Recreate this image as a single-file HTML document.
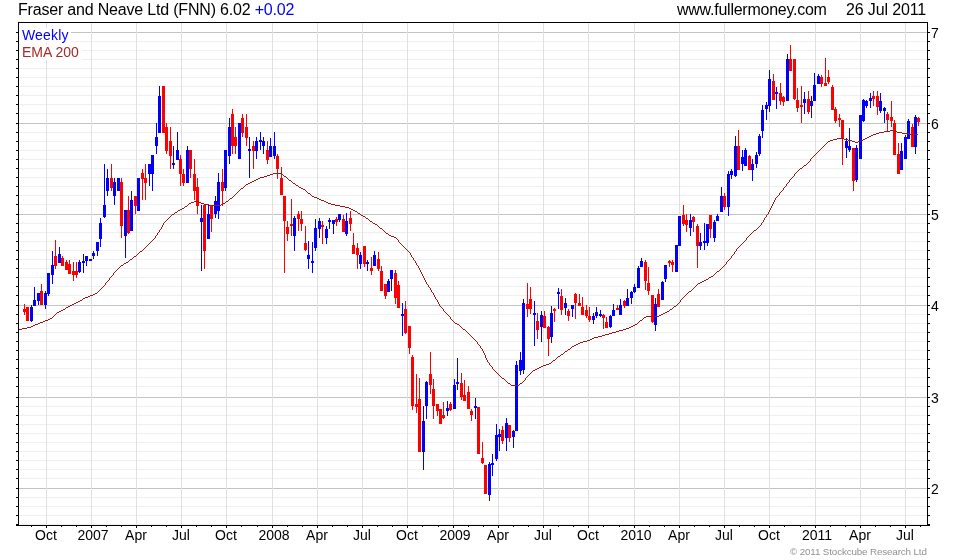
<!DOCTYPE html>
<html><head><meta charset="utf-8"><title>chart</title>
<style>
html,body{margin:0;padding:0;background:#fff;}
body{width:980px;height:560px;position:relative;overflow:hidden;font-family:"Liberation Sans",sans-serif;color:#000;}
.t,.xl,.yl,.lg,.cp{will-change:transform;}
.t{position:absolute;white-space:nowrap;font-size:16px;line-height:16px;top:2px;}
.xl{position:absolute;top:528px;width:60px;text-align:center;font-size:14px;line-height:14px;}
.yl{position:absolute;left:930.6px;font-size:14px;line-height:16px;}
.lg{position:absolute;left:22px;font-size:14px;line-height:14px;white-space:nowrap;}
.cp{position:absolute;right:53px;top:547px;font-size:9.8px;line-height:10px;color:#909090;white-space:nowrap;letter-spacing:-0.13px}
</style></head><body>
<svg width="980" height="560" viewBox="0 0 980 560" style="position:absolute;left:0;top:0" shape-rendering="crispEdges">
<rect x="20" y="41" width="907" height="1" fill="#efefef"/>
<rect x="20" y="50" width="907" height="1" fill="#efefef"/>
<rect x="20" y="59" width="907" height="1" fill="#efefef"/>
<rect x="20" y="68" width="907" height="1" fill="#efefef"/>
<rect x="20" y="77" width="907" height="1" fill="#efefef"/>
<rect x="20" y="86" width="907" height="1" fill="#efefef"/>
<rect x="20" y="95" width="907" height="1" fill="#efefef"/>
<rect x="20" y="104" width="907" height="1" fill="#efefef"/>
<rect x="20" y="113" width="907" height="1" fill="#efefef"/>
<rect x="20" y="132" width="907" height="1" fill="#efefef"/>
<rect x="20" y="141" width="907" height="1" fill="#efefef"/>
<rect x="20" y="150" width="907" height="1" fill="#efefef"/>
<rect x="20" y="159" width="907" height="1" fill="#efefef"/>
<rect x="20" y="168" width="907" height="1" fill="#efefef"/>
<rect x="20" y="177" width="907" height="1" fill="#efefef"/>
<rect x="20" y="186" width="907" height="1" fill="#efefef"/>
<rect x="20" y="195" width="907" height="1" fill="#efefef"/>
<rect x="20" y="204" width="907" height="1" fill="#efefef"/>
<rect x="20" y="223" width="907" height="1" fill="#efefef"/>
<rect x="20" y="232" width="907" height="1" fill="#efefef"/>
<rect x="20" y="241" width="907" height="1" fill="#efefef"/>
<rect x="20" y="250" width="907" height="1" fill="#efefef"/>
<rect x="20" y="259" width="907" height="1" fill="#efefef"/>
<rect x="20" y="268" width="907" height="1" fill="#efefef"/>
<rect x="20" y="277" width="907" height="1" fill="#efefef"/>
<rect x="20" y="286" width="907" height="1" fill="#efefef"/>
<rect x="20" y="295" width="907" height="1" fill="#efefef"/>
<rect x="20" y="314" width="907" height="1" fill="#efefef"/>
<rect x="20" y="323" width="907" height="1" fill="#efefef"/>
<rect x="20" y="332" width="907" height="1" fill="#efefef"/>
<rect x="20" y="341" width="907" height="1" fill="#efefef"/>
<rect x="20" y="350" width="907" height="1" fill="#efefef"/>
<rect x="20" y="359" width="907" height="1" fill="#efefef"/>
<rect x="20" y="368" width="907" height="1" fill="#efefef"/>
<rect x="20" y="377" width="907" height="1" fill="#efefef"/>
<rect x="20" y="386" width="907" height="1" fill="#efefef"/>
<rect x="20" y="406" width="907" height="1" fill="#efefef"/>
<rect x="20" y="415" width="907" height="1" fill="#efefef"/>
<rect x="20" y="424" width="907" height="1" fill="#efefef"/>
<rect x="20" y="433" width="907" height="1" fill="#efefef"/>
<rect x="20" y="442" width="907" height="1" fill="#efefef"/>
<rect x="20" y="451" width="907" height="1" fill="#efefef"/>
<rect x="20" y="460" width="907" height="1" fill="#efefef"/>
<rect x="20" y="469" width="907" height="1" fill="#efefef"/>
<rect x="20" y="478" width="907" height="1" fill="#efefef"/>
<rect x="20" y="497" width="907" height="1" fill="#efefef"/>
<rect x="20" y="506" width="907" height="1" fill="#efefef"/>
<rect x="20" y="515" width="907" height="1" fill="#efefef"/>
<rect x="20" y="524" width="907" height="1" fill="#efefef"/>
<rect x="19" y="32" width="908" height="1" fill="#c4c4c4"/>
<rect x="19" y="123" width="908" height="1" fill="#c4c4c4"/>
<rect x="19" y="214" width="908" height="1" fill="#c4c4c4"/>
<rect x="19" y="305" width="908" height="1" fill="#c4c4c4"/>
<rect x="19" y="397" width="908" height="1" fill="#c4c4c4"/>
<rect x="19" y="488" width="908" height="1" fill="#c4c4c4"/>
<rect x="46" y="23" width="1" height="501" fill="#e0e0e0"/>
<rect x="91" y="23" width="1" height="501" fill="#e0e0e0"/>
<rect x="136" y="23" width="1" height="501" fill="#e0e0e0"/>
<rect x="181" y="23" width="1" height="501" fill="#e0e0e0"/>
<rect x="226" y="23" width="1" height="501" fill="#e0e0e0"/>
<rect x="272" y="23" width="1" height="501" fill="#e0e0e0"/>
<rect x="317" y="23" width="1" height="501" fill="#e0e0e0"/>
<rect x="362" y="23" width="1" height="501" fill="#e0e0e0"/>
<rect x="407" y="23" width="1" height="501" fill="#e0e0e0"/>
<rect x="453" y="23" width="1" height="501" fill="#e0e0e0"/>
<rect x="498" y="23" width="1" height="501" fill="#e0e0e0"/>
<rect x="543" y="23" width="1" height="501" fill="#e0e0e0"/>
<rect x="588" y="23" width="1" height="501" fill="#e0e0e0"/>
<rect x="634" y="23" width="1" height="501" fill="#e0e0e0"/>
<rect x="679" y="23" width="1" height="501" fill="#e0e0e0"/>
<rect x="724" y="23" width="1" height="501" fill="#e0e0e0"/>
<rect x="769" y="23" width="1" height="501" fill="#e0e0e0"/>
<rect x="815" y="23" width="1" height="501" fill="#e0e0e0"/>
<rect x="860" y="23" width="1" height="501" fill="#e0e0e0"/>
<rect x="905" y="23" width="1" height="501" fill="#e0e0e0"/>
<rect x="19" y="28" width="52" height="15" fill="#fff"/>
<rect x="19" y="45" width="63" height="15" fill="#fff"/>
<rect x="24" y="304" width="1" height="11" fill="#ff0000"/>
<rect x="23" y="309" width="3" height="3" fill="#ff0000"/>
<rect x="27" y="307" width="1" height="14" fill="#ff0000"/>
<rect x="26" y="307" width="3" height="14" fill="#ff0000"/>
<rect x="31" y="305" width="1" height="17" fill="#0000ff"/>
<rect x="30" y="307" width="3" height="14" fill="#0000ff"/>
<rect x="34" y="287" width="1" height="19" fill="#0000ff"/>
<rect x="33" y="300" width="3" height="6" fill="#0000ff"/>
<rect x="38" y="293" width="1" height="12" fill="#0000ff"/>
<rect x="37" y="293" width="3" height="8" fill="#0000ff"/>
<rect x="41" y="284" width="1" height="21" fill="#ff0000"/>
<rect x="40" y="291" width="3" height="14" fill="#ff0000"/>
<rect x="45" y="291" width="1" height="18" fill="#0000ff"/>
<rect x="44" y="293" width="3" height="12" fill="#0000ff"/>
<rect x="48" y="273" width="1" height="23" fill="#0000ff"/>
<rect x="47" y="273" width="3" height="21" fill="#0000ff"/>
<rect x="52" y="251" width="1" height="33" fill="#0000ff"/>
<rect x="51" y="265" width="3" height="10" fill="#0000ff"/>
<rect x="55" y="240" width="1" height="29" fill="#ff0000"/>
<rect x="54" y="256" width="3" height="10" fill="#ff0000"/>
<rect x="59" y="247" width="1" height="16" fill="#0000ff"/>
<rect x="58" y="254" width="3" height="9" fill="#0000ff"/>
<rect x="62" y="256" width="1" height="10" fill="#ff0000"/>
<rect x="61" y="258" width="3" height="8" fill="#ff0000"/>
<rect x="66" y="260" width="1" height="10" fill="#ff0000"/>
<rect x="65" y="262" width="3" height="8" fill="#ff0000"/>
<rect x="69" y="260" width="1" height="14" fill="#ff0000"/>
<rect x="68" y="264" width="3" height="10" fill="#ff0000"/>
<rect x="73" y="262" width="1" height="19" fill="#ff0000"/>
<rect x="72" y="271" width="3" height="4" fill="#ff0000"/>
<rect x="76" y="262" width="1" height="16" fill="#ff0000"/>
<rect x="75" y="271" width="3" height="4" fill="#ff0000"/>
<rect x="79" y="260" width="1" height="13" fill="#0000ff"/>
<rect x="78" y="262" width="3" height="10" fill="#0000ff"/>
<rect x="83" y="254" width="1" height="19" fill="#0000ff"/>
<rect x="82" y="261" width="3" height="2" fill="#0000ff"/>
<rect x="86" y="256" width="1" height="10" fill="#0000ff"/>
<rect x="85" y="256" width="3" height="5" fill="#0000ff"/>
<rect x="90" y="259" width="1" height="2" fill="#0000ff"/>
<rect x="89" y="259" width="3" height="2" fill="#0000ff"/>
<rect x="93" y="251" width="1" height="8" fill="#0000ff"/>
<rect x="92" y="253" width="3" height="3" fill="#0000ff"/>
<rect x="97" y="242" width="1" height="14" fill="#0000ff"/>
<rect x="96" y="242" width="3" height="9" fill="#0000ff"/>
<rect x="100" y="218" width="1" height="29" fill="#0000ff"/>
<rect x="99" y="223" width="3" height="16" fill="#0000ff"/>
<rect x="104" y="164" width="1" height="54" fill="#0000ff"/>
<rect x="103" y="205" width="3" height="12" fill="#0000ff"/>
<rect x="107" y="169" width="1" height="27" fill="#0000ff"/>
<rect x="106" y="178" width="3" height="13" fill="#0000ff"/>
<rect x="111" y="164" width="1" height="27" fill="#ff0000"/>
<rect x="110" y="178" width="3" height="10" fill="#ff0000"/>
<rect x="114" y="178" width="1" height="27" fill="#0000ff"/>
<rect x="113" y="182" width="3" height="14" fill="#0000ff"/>
<rect x="118" y="178" width="1" height="13" fill="#0000ff"/>
<rect x="117" y="178" width="3" height="13" fill="#0000ff"/>
<rect x="121" y="178" width="1" height="60" fill="#ff0000"/>
<rect x="120" y="182" width="3" height="44" fill="#ff0000"/>
<rect x="125" y="210" width="1" height="48" fill="#0000ff"/>
<rect x="124" y="210" width="3" height="26" fill="#0000ff"/>
<rect x="128" y="196" width="1" height="38" fill="#ff0000"/>
<rect x="127" y="210" width="3" height="23" fill="#ff0000"/>
<rect x="131" y="191" width="1" height="40" fill="#0000ff"/>
<rect x="130" y="200" width="3" height="31" fill="#0000ff"/>
<rect x="135" y="196" width="1" height="18" fill="#ff0000"/>
<rect x="134" y="196" width="3" height="10" fill="#ff0000"/>
<rect x="138" y="178" width="1" height="33" fill="#0000ff"/>
<rect x="137" y="178" width="3" height="33" fill="#0000ff"/>
<rect x="142" y="169" width="1" height="31" fill="#ff0000"/>
<rect x="141" y="173" width="3" height="6" fill="#ff0000"/>
<rect x="145" y="164" width="1" height="36" fill="#ff0000"/>
<rect x="144" y="178" width="3" height="5" fill="#ff0000"/>
<rect x="149" y="164" width="1" height="22" fill="#0000ff"/>
<rect x="148" y="164" width="3" height="10" fill="#0000ff"/>
<rect x="152" y="155" width="1" height="36" fill="#0000ff"/>
<rect x="151" y="155" width="3" height="19" fill="#0000ff"/>
<rect x="156" y="123" width="1" height="31" fill="#0000ff"/>
<rect x="155" y="137" width="3" height="9" fill="#0000ff"/>
<rect x="159" y="86" width="1" height="47" fill="#0000ff"/>
<rect x="158" y="96" width="3" height="37" fill="#0000ff"/>
<rect x="163" y="86" width="1" height="47" fill="#ff0000"/>
<rect x="162" y="86" width="3" height="47" fill="#ff0000"/>
<rect x="166" y="123" width="1" height="31" fill="#ff0000"/>
<rect x="165" y="127" width="3" height="24" fill="#ff0000"/>
<rect x="170" y="127" width="1" height="42" fill="#ff0000"/>
<rect x="169" y="141" width="3" height="15" fill="#ff0000"/>
<rect x="173" y="146" width="1" height="23" fill="#0000ff"/>
<rect x="172" y="163" width="3" height="2" fill="#0000ff"/>
<rect x="177" y="132" width="1" height="28" fill="#0000ff"/>
<rect x="176" y="150" width="3" height="10" fill="#0000ff"/>
<rect x="180" y="155" width="1" height="31" fill="#ff0000"/>
<rect x="179" y="159" width="3" height="15" fill="#ff0000"/>
<rect x="183" y="169" width="1" height="17" fill="#ff0000"/>
<rect x="182" y="174" width="3" height="9" fill="#ff0000"/>
<rect x="187" y="146" width="1" height="37" fill="#0000ff"/>
<rect x="186" y="150" width="3" height="33" fill="#0000ff"/>
<rect x="190" y="150" width="1" height="28" fill="#ff0000"/>
<rect x="189" y="150" width="3" height="19" fill="#ff0000"/>
<rect x="194" y="159" width="1" height="41" fill="#ff0000"/>
<rect x="193" y="174" width="3" height="17" fill="#ff0000"/>
<rect x="197" y="178" width="1" height="36" fill="#ff0000"/>
<rect x="196" y="187" width="3" height="19" fill="#ff0000"/>
<rect x="201" y="205" width="1" height="66" fill="#0000ff"/>
<rect x="200" y="218" width="3" height="4" fill="#0000ff"/>
<rect x="204" y="205" width="1" height="64" fill="#ff0000"/>
<rect x="203" y="205" width="3" height="46" fill="#ff0000"/>
<rect x="208" y="205" width="1" height="34" fill="#0000ff"/>
<rect x="207" y="214" width="3" height="25" fill="#0000ff"/>
<rect x="211" y="205" width="1" height="27" fill="#ff0000"/>
<rect x="210" y="205" width="3" height="14" fill="#ff0000"/>
<rect x="215" y="196" width="1" height="22" fill="#0000ff"/>
<rect x="214" y="201" width="3" height="13" fill="#0000ff"/>
<rect x="218" y="173" width="1" height="46" fill="#0000ff"/>
<rect x="217" y="182" width="3" height="29" fill="#0000ff"/>
<rect x="222" y="169" width="1" height="37" fill="#ff0000"/>
<rect x="221" y="182" width="3" height="9" fill="#ff0000"/>
<rect x="225" y="150" width="1" height="41" fill="#0000ff"/>
<rect x="224" y="150" width="3" height="38" fill="#0000ff"/>
<rect x="229" y="118" width="1" height="46" fill="#0000ff"/>
<rect x="228" y="127" width="3" height="29" fill="#0000ff"/>
<rect x="232" y="109" width="1" height="45" fill="#ff0000"/>
<rect x="231" y="114" width="3" height="32" fill="#ff0000"/>
<rect x="235" y="127" width="1" height="27" fill="#ff0000"/>
<rect x="234" y="137" width="3" height="9" fill="#ff0000"/>
<rect x="239" y="123" width="1" height="36" fill="#0000ff"/>
<rect x="238" y="123" width="3" height="36" fill="#0000ff"/>
<rect x="242" y="114" width="1" height="23" fill="#ff0000"/>
<rect x="241" y="118" width="3" height="15" fill="#ff0000"/>
<rect x="246" y="114" width="1" height="32" fill="#ff0000"/>
<rect x="245" y="127" width="3" height="11" fill="#ff0000"/>
<rect x="249" y="137" width="1" height="41" fill="#0000ff"/>
<rect x="248" y="149" width="3" height="2" fill="#0000ff"/>
<rect x="253" y="141" width="1" height="28" fill="#ff0000"/>
<rect x="252" y="146" width="3" height="5" fill="#ff0000"/>
<rect x="256" y="137" width="1" height="22" fill="#0000ff"/>
<rect x="255" y="141" width="3" height="10" fill="#0000ff"/>
<rect x="260" y="132" width="1" height="18" fill="#0000ff"/>
<rect x="259" y="140" width="3" height="2" fill="#0000ff"/>
<rect x="263" y="137" width="1" height="17" fill="#0000ff"/>
<rect x="262" y="141" width="3" height="5" fill="#0000ff"/>
<rect x="267" y="141" width="1" height="23" fill="#ff0000"/>
<rect x="266" y="150" width="3" height="10" fill="#ff0000"/>
<rect x="270" y="138" width="1" height="19" fill="#0000ff"/>
<rect x="269" y="146" width="3" height="11" fill="#0000ff"/>
<rect x="274" y="132" width="1" height="27" fill="#0000ff"/>
<rect x="273" y="146" width="3" height="10" fill="#0000ff"/>
<rect x="277" y="154" width="1" height="25" fill="#ff0000"/>
<rect x="276" y="156" width="3" height="13" fill="#ff0000"/>
<rect x="281" y="167" width="1" height="28" fill="#ff0000"/>
<rect x="280" y="178" width="3" height="17" fill="#ff0000"/>
<rect x="284" y="196" width="1" height="77" fill="#ff0000"/>
<rect x="283" y="196" width="3" height="25" fill="#ff0000"/>
<rect x="287" y="221" width="1" height="20" fill="#ff0000"/>
<rect x="286" y="227" width="3" height="7" fill="#ff0000"/>
<rect x="291" y="199" width="1" height="37" fill="#ff0000"/>
<rect x="290" y="224" width="3" height="2" fill="#ff0000"/>
<rect x="294" y="216" width="1" height="35" fill="#0000ff"/>
<rect x="293" y="218" width="3" height="18" fill="#0000ff"/>
<rect x="298" y="211" width="1" height="20" fill="#ff0000"/>
<rect x="297" y="214" width="3" height="5" fill="#ff0000"/>
<rect x="301" y="211" width="1" height="20" fill="#ff0000"/>
<rect x="300" y="219" width="3" height="5" fill="#ff0000"/>
<rect x="305" y="226" width="1" height="25" fill="#ff0000"/>
<rect x="304" y="243" width="3" height="7" fill="#ff0000"/>
<rect x="308" y="241" width="1" height="28" fill="#0000ff"/>
<rect x="307" y="255" width="3" height="4" fill="#0000ff"/>
<rect x="312" y="242" width="1" height="31" fill="#0000ff"/>
<rect x="311" y="261" width="3" height="2" fill="#0000ff"/>
<rect x="315" y="219" width="1" height="32" fill="#0000ff"/>
<rect x="314" y="228" width="3" height="20" fill="#0000ff"/>
<rect x="319" y="218" width="1" height="20" fill="#0000ff"/>
<rect x="318" y="221" width="3" height="8" fill="#0000ff"/>
<rect x="322" y="221" width="1" height="23" fill="#ff0000"/>
<rect x="321" y="225" width="3" height="2" fill="#ff0000"/>
<rect x="326" y="226" width="1" height="18" fill="#0000ff"/>
<rect x="325" y="229" width="3" height="9" fill="#0000ff"/>
<rect x="329" y="218" width="1" height="11" fill="#0000ff"/>
<rect x="328" y="220" width="3" height="2" fill="#0000ff"/>
<rect x="333" y="220" width="1" height="14" fill="#0000ff"/>
<rect x="332" y="220" width="3" height="4" fill="#0000ff"/>
<rect x="336" y="217" width="1" height="9" fill="#ff0000"/>
<rect x="335" y="219" width="3" height="3" fill="#ff0000"/>
<rect x="339" y="214" width="1" height="8" fill="#0000ff"/>
<rect x="338" y="214" width="3" height="6" fill="#0000ff"/>
<rect x="343" y="215" width="1" height="17" fill="#ff0000"/>
<rect x="342" y="219" width="3" height="13" fill="#ff0000"/>
<rect x="346" y="213" width="1" height="23" fill="#0000ff"/>
<rect x="345" y="221" width="3" height="13" fill="#0000ff"/>
<rect x="350" y="211" width="1" height="20" fill="#ff0000"/>
<rect x="349" y="218" width="3" height="6" fill="#ff0000"/>
<rect x="353" y="233" width="1" height="21" fill="#ff0000"/>
<rect x="352" y="245" width="3" height="9" fill="#ff0000"/>
<rect x="357" y="243" width="1" height="26" fill="#ff0000"/>
<rect x="356" y="248" width="3" height="7" fill="#ff0000"/>
<rect x="360" y="252" width="1" height="17" fill="#0000ff"/>
<rect x="359" y="255" width="3" height="9" fill="#0000ff"/>
<rect x="364" y="246" width="1" height="21" fill="#ff0000"/>
<rect x="363" y="246" width="3" height="18" fill="#ff0000"/>
<rect x="367" y="260" width="1" height="11" fill="#0000ff"/>
<rect x="366" y="262" width="3" height="2" fill="#0000ff"/>
<rect x="371" y="257" width="1" height="18" fill="#ff0000"/>
<rect x="370" y="268" width="3" height="3" fill="#ff0000"/>
<rect x="374" y="251" width="1" height="15" fill="#0000ff"/>
<rect x="373" y="255" width="3" height="11" fill="#0000ff"/>
<rect x="378" y="252" width="1" height="19" fill="#ff0000"/>
<rect x="377" y="259" width="3" height="10" fill="#ff0000"/>
<rect x="381" y="266" width="1" height="25" fill="#ff0000"/>
<rect x="380" y="271" width="3" height="20" fill="#ff0000"/>
<rect x="385" y="284" width="1" height="15" fill="#ff0000"/>
<rect x="384" y="284" width="3" height="12" fill="#ff0000"/>
<rect x="388" y="279" width="1" height="13" fill="#0000ff"/>
<rect x="387" y="281" width="3" height="11" fill="#0000ff"/>
<rect x="391" y="270" width="1" height="21" fill="#0000ff"/>
<rect x="390" y="270" width="3" height="9" fill="#0000ff"/>
<rect x="395" y="270" width="1" height="34" fill="#ff0000"/>
<rect x="394" y="273" width="3" height="25" fill="#ff0000"/>
<rect x="398" y="281" width="1" height="27" fill="#ff0000"/>
<rect x="397" y="285" width="3" height="23" fill="#ff0000"/>
<rect x="402" y="303" width="1" height="33" fill="#0000ff"/>
<rect x="401" y="314" width="3" height="2" fill="#0000ff"/>
<rect x="405" y="301" width="1" height="33" fill="#ff0000"/>
<rect x="404" y="309" width="3" height="24" fill="#ff0000"/>
<rect x="409" y="326" width="1" height="28" fill="#ff0000"/>
<rect x="408" y="326" width="3" height="22" fill="#ff0000"/>
<rect x="412" y="355" width="1" height="55" fill="#ff0000"/>
<rect x="411" y="357" width="3" height="49" fill="#ff0000"/>
<rect x="416" y="374" width="1" height="39" fill="#ff0000"/>
<rect x="415" y="404" width="3" height="3" fill="#ff0000"/>
<rect x="419" y="378" width="1" height="74" fill="#ff0000"/>
<rect x="418" y="399" width="3" height="53" fill="#ff0000"/>
<rect x="423" y="406" width="1" height="64" fill="#0000ff"/>
<rect x="422" y="421" width="3" height="31" fill="#0000ff"/>
<rect x="426" y="381" width="1" height="38" fill="#0000ff"/>
<rect x="425" y="382" width="3" height="24" fill="#0000ff"/>
<rect x="430" y="352" width="1" height="42" fill="#ff0000"/>
<rect x="429" y="374" width="3" height="11" fill="#ff0000"/>
<rect x="433" y="379" width="1" height="40" fill="#ff0000"/>
<rect x="432" y="389" width="3" height="17" fill="#ff0000"/>
<rect x="437" y="404" width="1" height="12" fill="#ff0000"/>
<rect x="436" y="404" width="3" height="7" fill="#ff0000"/>
<rect x="440" y="409" width="1" height="15" fill="#ff0000"/>
<rect x="439" y="409" width="3" height="15" fill="#ff0000"/>
<rect x="443" y="402" width="1" height="17" fill="#ff0000"/>
<rect x="442" y="415" width="3" height="3" fill="#ff0000"/>
<rect x="447" y="401" width="1" height="15" fill="#0000ff"/>
<rect x="446" y="408" width="3" height="3" fill="#0000ff"/>
<rect x="450" y="402" width="1" height="9" fill="#ff0000"/>
<rect x="449" y="404" width="3" height="6" fill="#ff0000"/>
<rect x="454" y="379" width="1" height="30" fill="#0000ff"/>
<rect x="453" y="385" width="3" height="24" fill="#0000ff"/>
<rect x="457" y="358" width="1" height="32" fill="#0000ff"/>
<rect x="456" y="382" width="3" height="2" fill="#0000ff"/>
<rect x="461" y="373" width="1" height="27" fill="#ff0000"/>
<rect x="460" y="383" width="3" height="14" fill="#ff0000"/>
<rect x="464" y="380" width="1" height="21" fill="#ff0000"/>
<rect x="463" y="395" width="3" height="6" fill="#ff0000"/>
<rect x="468" y="386" width="1" height="23" fill="#ff0000"/>
<rect x="467" y="392" width="3" height="17" fill="#ff0000"/>
<rect x="471" y="409" width="1" height="12" fill="#ff0000"/>
<rect x="470" y="411" width="3" height="4" fill="#ff0000"/>
<rect x="475" y="398" width="1" height="21" fill="#0000ff"/>
<rect x="474" y="406" width="3" height="2" fill="#0000ff"/>
<rect x="478" y="407" width="1" height="47" fill="#ff0000"/>
<rect x="477" y="407" width="3" height="47" fill="#ff0000"/>
<rect x="482" y="442" width="1" height="22" fill="#ff0000"/>
<rect x="481" y="458" width="3" height="5" fill="#ff0000"/>
<rect x="485" y="465" width="1" height="29" fill="#ff0000"/>
<rect x="484" y="465" width="3" height="29" fill="#ff0000"/>
<rect x="489" y="462" width="1" height="39" fill="#0000ff"/>
<rect x="488" y="464" width="3" height="31" fill="#0000ff"/>
<rect x="492" y="454" width="1" height="22" fill="#0000ff"/>
<rect x="491" y="463" width="3" height="2" fill="#0000ff"/>
<rect x="496" y="424" width="1" height="37" fill="#0000ff"/>
<rect x="495" y="435" width="3" height="24" fill="#0000ff"/>
<rect x="499" y="429" width="1" height="22" fill="#0000ff"/>
<rect x="498" y="434" width="3" height="3" fill="#0000ff"/>
<rect x="502" y="426" width="1" height="18" fill="#ff0000"/>
<rect x="501" y="430" width="3" height="11" fill="#ff0000"/>
<rect x="506" y="418" width="1" height="33" fill="#0000ff"/>
<rect x="505" y="423" width="3" height="15" fill="#0000ff"/>
<rect x="509" y="425" width="1" height="17" fill="#ff0000"/>
<rect x="508" y="425" width="3" height="13" fill="#ff0000"/>
<rect x="513" y="430" width="1" height="18" fill="#0000ff"/>
<rect x="512" y="431" width="3" height="6" fill="#0000ff"/>
<rect x="516" y="361" width="1" height="70" fill="#0000ff"/>
<rect x="515" y="365" width="3" height="66" fill="#0000ff"/>
<rect x="520" y="352" width="1" height="23" fill="#0000ff"/>
<rect x="519" y="360" width="3" height="11" fill="#0000ff"/>
<rect x="523" y="299" width="1" height="75" fill="#0000ff"/>
<rect x="522" y="303" width="3" height="67" fill="#0000ff"/>
<rect x="527" y="283" width="1" height="34" fill="#ff0000"/>
<rect x="526" y="304" width="3" height="5" fill="#ff0000"/>
<rect x="530" y="287" width="1" height="27" fill="#ff0000"/>
<rect x="529" y="299" width="3" height="10" fill="#ff0000"/>
<rect x="534" y="301" width="1" height="45" fill="#0000ff"/>
<rect x="533" y="313" width="3" height="2" fill="#0000ff"/>
<rect x="537" y="313" width="1" height="26" fill="#ff0000"/>
<rect x="536" y="321" width="3" height="9" fill="#ff0000"/>
<rect x="541" y="311" width="1" height="31" fill="#0000ff"/>
<rect x="540" y="315" width="3" height="12" fill="#0000ff"/>
<rect x="544" y="311" width="1" height="17" fill="#ff0000"/>
<rect x="543" y="316" width="3" height="12" fill="#ff0000"/>
<rect x="548" y="326" width="1" height="30" fill="#ff0000"/>
<rect x="547" y="327" width="3" height="12" fill="#ff0000"/>
<rect x="551" y="306" width="1" height="37" fill="#0000ff"/>
<rect x="550" y="313" width="3" height="24" fill="#0000ff"/>
<rect x="554" y="308" width="1" height="14" fill="#ff0000"/>
<rect x="553" y="309" width="3" height="2" fill="#ff0000"/>
<rect x="558" y="288" width="1" height="21" fill="#0000ff"/>
<rect x="557" y="292" width="3" height="2" fill="#0000ff"/>
<rect x="561" y="289" width="1" height="26" fill="#ff0000"/>
<rect x="560" y="296" width="3" height="14" fill="#ff0000"/>
<rect x="565" y="298" width="1" height="17" fill="#0000ff"/>
<rect x="564" y="303" width="3" height="5" fill="#0000ff"/>
<rect x="568" y="309" width="1" height="12" fill="#ff0000"/>
<rect x="567" y="311" width="3" height="5" fill="#ff0000"/>
<rect x="572" y="305" width="1" height="12" fill="#0000ff"/>
<rect x="571" y="305" width="3" height="4" fill="#0000ff"/>
<rect x="575" y="293" width="1" height="26" fill="#ff0000"/>
<rect x="574" y="294" width="3" height="9" fill="#ff0000"/>
<rect x="579" y="294" width="1" height="12" fill="#ff0000"/>
<rect x="578" y="303" width="3" height="3" fill="#ff0000"/>
<rect x="582" y="297" width="1" height="18" fill="#ff0000"/>
<rect x="581" y="307" width="3" height="8" fill="#ff0000"/>
<rect x="586" y="305" width="1" height="13" fill="#ff0000"/>
<rect x="585" y="310" width="3" height="6" fill="#ff0000"/>
<rect x="589" y="307" width="1" height="15" fill="#ff0000"/>
<rect x="588" y="316" width="3" height="4" fill="#ff0000"/>
<rect x="593" y="313" width="1" height="11" fill="#0000ff"/>
<rect x="592" y="316" width="3" height="4" fill="#0000ff"/>
<rect x="596" y="307" width="1" height="11" fill="#0000ff"/>
<rect x="595" y="312" width="3" height="4" fill="#0000ff"/>
<rect x="600" y="310" width="1" height="7" fill="#0000ff"/>
<rect x="599" y="314" width="3" height="2" fill="#0000ff"/>
<rect x="603" y="314" width="1" height="15" fill="#ff0000"/>
<rect x="602" y="315" width="3" height="3" fill="#ff0000"/>
<rect x="606" y="317" width="1" height="11" fill="#ff0000"/>
<rect x="605" y="322" width="3" height="6" fill="#ff0000"/>
<rect x="610" y="315" width="1" height="13" fill="#0000ff"/>
<rect x="609" y="316" width="3" height="11" fill="#0000ff"/>
<rect x="613" y="304" width="1" height="12" fill="#0000ff"/>
<rect x="612" y="310" width="3" height="6" fill="#0000ff"/>
<rect x="617" y="305" width="1" height="5" fill="#ff0000"/>
<rect x="616" y="308" width="3" height="2" fill="#ff0000"/>
<rect x="620" y="299" width="1" height="16" fill="#0000ff"/>
<rect x="619" y="305" width="3" height="10" fill="#0000ff"/>
<rect x="624" y="300" width="1" height="8" fill="#ff0000"/>
<rect x="623" y="301" width="3" height="5" fill="#ff0000"/>
<rect x="627" y="289" width="1" height="17" fill="#0000ff"/>
<rect x="626" y="298" width="3" height="8" fill="#0000ff"/>
<rect x="631" y="291" width="1" height="13" fill="#0000ff"/>
<rect x="630" y="292" width="3" height="6" fill="#0000ff"/>
<rect x="634" y="284" width="1" height="9" fill="#0000ff"/>
<rect x="633" y="287" width="3" height="5" fill="#0000ff"/>
<rect x="638" y="266" width="1" height="22" fill="#0000ff"/>
<rect x="637" y="268" width="3" height="20" fill="#0000ff"/>
<rect x="641" y="258" width="1" height="9" fill="#0000ff"/>
<rect x="640" y="261" width="3" height="6" fill="#0000ff"/>
<rect x="645" y="260" width="1" height="30" fill="#ff0000"/>
<rect x="644" y="262" width="3" height="19" fill="#ff0000"/>
<rect x="648" y="267" width="1" height="28" fill="#ff0000"/>
<rect x="647" y="283" width="3" height="8" fill="#ff0000"/>
<rect x="652" y="295" width="1" height="28" fill="#ff0000"/>
<rect x="651" y="295" width="3" height="27" fill="#ff0000"/>
<rect x="655" y="298" width="1" height="33" fill="#0000ff"/>
<rect x="654" y="304" width="3" height="21" fill="#0000ff"/>
<rect x="658" y="289" width="1" height="18" fill="#ff0000"/>
<rect x="657" y="294" width="3" height="13" fill="#ff0000"/>
<rect x="662" y="281" width="1" height="19" fill="#0000ff"/>
<rect x="661" y="282" width="3" height="18" fill="#0000ff"/>
<rect x="665" y="265" width="1" height="17" fill="#0000ff"/>
<rect x="664" y="265" width="3" height="14" fill="#0000ff"/>
<rect x="669" y="260" width="1" height="7" fill="#ff0000"/>
<rect x="668" y="261" width="3" height="2" fill="#ff0000"/>
<rect x="672" y="260" width="1" height="12" fill="#ff0000"/>
<rect x="671" y="262" width="3" height="3" fill="#ff0000"/>
<rect x="676" y="245" width="1" height="27" fill="#0000ff"/>
<rect x="675" y="245" width="3" height="27" fill="#0000ff"/>
<rect x="679" y="216" width="1" height="30" fill="#0000ff"/>
<rect x="678" y="216" width="3" height="30" fill="#0000ff"/>
<rect x="683" y="205" width="1" height="21" fill="#ff0000"/>
<rect x="682" y="215" width="3" height="9" fill="#ff0000"/>
<rect x="686" y="214" width="1" height="18" fill="#ff0000"/>
<rect x="685" y="220" width="3" height="5" fill="#ff0000"/>
<rect x="690" y="214" width="1" height="22" fill="#0000ff"/>
<rect x="689" y="220" width="3" height="8" fill="#0000ff"/>
<rect x="693" y="216" width="1" height="16" fill="#ff0000"/>
<rect x="692" y="217" width="3" height="5" fill="#ff0000"/>
<rect x="697" y="224" width="1" height="44" fill="#ff0000"/>
<rect x="696" y="226" width="3" height="20" fill="#ff0000"/>
<rect x="700" y="233" width="1" height="17" fill="#0000ff"/>
<rect x="699" y="242" width="3" height="4" fill="#0000ff"/>
<rect x="704" y="223" width="1" height="27" fill="#0000ff"/>
<rect x="703" y="241" width="3" height="2" fill="#0000ff"/>
<rect x="707" y="224" width="1" height="22" fill="#0000ff"/>
<rect x="706" y="224" width="3" height="19" fill="#0000ff"/>
<rect x="710" y="215" width="1" height="23" fill="#ff0000"/>
<rect x="709" y="215" width="3" height="14" fill="#ff0000"/>
<rect x="714" y="220" width="1" height="22" fill="#0000ff"/>
<rect x="713" y="222" width="3" height="16" fill="#0000ff"/>
<rect x="717" y="214" width="1" height="7" fill="#0000ff"/>
<rect x="716" y="216" width="3" height="5" fill="#0000ff"/>
<rect x="721" y="187" width="1" height="25" fill="#0000ff"/>
<rect x="720" y="196" width="3" height="16" fill="#0000ff"/>
<rect x="724" y="193" width="1" height="17" fill="#ff0000"/>
<rect x="723" y="196" width="3" height="11" fill="#ff0000"/>
<rect x="728" y="171" width="1" height="45" fill="#0000ff"/>
<rect x="727" y="174" width="3" height="33" fill="#0000ff"/>
<rect x="731" y="169" width="1" height="10" fill="#0000ff"/>
<rect x="730" y="171" width="3" height="4" fill="#0000ff"/>
<rect x="735" y="136" width="1" height="41" fill="#0000ff"/>
<rect x="734" y="146" width="3" height="30" fill="#0000ff"/>
<rect x="738" y="130" width="1" height="40" fill="#ff0000"/>
<rect x="737" y="146" width="3" height="24" fill="#ff0000"/>
<rect x="742" y="150" width="1" height="21" fill="#0000ff"/>
<rect x="741" y="157" width="3" height="7" fill="#0000ff"/>
<rect x="745" y="148" width="1" height="18" fill="#0000ff"/>
<rect x="744" y="150" width="3" height="16" fill="#0000ff"/>
<rect x="749" y="155" width="1" height="15" fill="#ff0000"/>
<rect x="748" y="156" width="3" height="14" fill="#ff0000"/>
<rect x="752" y="159" width="1" height="22" fill="#0000ff"/>
<rect x="751" y="164" width="3" height="6" fill="#0000ff"/>
<rect x="756" y="152" width="1" height="16" fill="#0000ff"/>
<rect x="755" y="155" width="3" height="9" fill="#0000ff"/>
<rect x="759" y="134" width="1" height="22" fill="#0000ff"/>
<rect x="758" y="136" width="3" height="18" fill="#0000ff"/>
<rect x="762" y="105" width="1" height="33" fill="#0000ff"/>
<rect x="761" y="110" width="3" height="21" fill="#0000ff"/>
<rect x="766" y="102" width="1" height="18" fill="#0000ff"/>
<rect x="765" y="105" width="3" height="4" fill="#0000ff"/>
<rect x="769" y="70" width="1" height="42" fill="#0000ff"/>
<rect x="768" y="79" width="3" height="27" fill="#0000ff"/>
<rect x="773" y="74" width="1" height="26" fill="#ff0000"/>
<rect x="772" y="81" width="3" height="19" fill="#ff0000"/>
<rect x="776" y="87" width="1" height="22" fill="#0000ff"/>
<rect x="775" y="92" width="3" height="2" fill="#0000ff"/>
<rect x="780" y="83" width="1" height="22" fill="#ff0000"/>
<rect x="779" y="93" width="3" height="8" fill="#ff0000"/>
<rect x="783" y="96" width="1" height="10" fill="#ff0000"/>
<rect x="782" y="97" width="3" height="5" fill="#ff0000"/>
<rect x="787" y="54" width="1" height="47" fill="#0000ff"/>
<rect x="786" y="59" width="3" height="42" fill="#0000ff"/>
<rect x="790" y="45" width="1" height="26" fill="#ff0000"/>
<rect x="789" y="59" width="3" height="12" fill="#ff0000"/>
<rect x="794" y="59" width="1" height="41" fill="#ff0000"/>
<rect x="793" y="59" width="3" height="40" fill="#ff0000"/>
<rect x="797" y="88" width="1" height="24" fill="#ff0000"/>
<rect x="796" y="100" width="3" height="8" fill="#ff0000"/>
<rect x="801" y="86" width="1" height="37" fill="#ff0000"/>
<rect x="800" y="105" width="3" height="2" fill="#ff0000"/>
<rect x="804" y="92" width="1" height="22" fill="#0000ff"/>
<rect x="803" y="99" width="3" height="4" fill="#0000ff"/>
<rect x="808" y="91" width="1" height="23" fill="#ff0000"/>
<rect x="807" y="99" width="3" height="13" fill="#ff0000"/>
<rect x="811" y="96" width="1" height="22" fill="#0000ff"/>
<rect x="810" y="101" width="3" height="5" fill="#0000ff"/>
<rect x="814" y="73" width="1" height="28" fill="#0000ff"/>
<rect x="813" y="85" width="3" height="16" fill="#0000ff"/>
<rect x="818" y="74" width="1" height="10" fill="#0000ff"/>
<rect x="817" y="76" width="3" height="8" fill="#0000ff"/>
<rect x="821" y="75" width="1" height="12" fill="#ff0000"/>
<rect x="820" y="77" width="3" height="7" fill="#ff0000"/>
<rect x="825" y="58" width="1" height="28" fill="#ff0000"/>
<rect x="824" y="83" width="3" height="3" fill="#ff0000"/>
<rect x="828" y="70" width="1" height="14" fill="#ff0000"/>
<rect x="827" y="77" width="3" height="5" fill="#ff0000"/>
<rect x="832" y="85" width="1" height="25" fill="#ff0000"/>
<rect x="831" y="87" width="3" height="23" fill="#ff0000"/>
<rect x="835" y="107" width="1" height="16" fill="#ff0000"/>
<rect x="834" y="109" width="3" height="12" fill="#ff0000"/>
<rect x="839" y="114" width="1" height="13" fill="#ff0000"/>
<rect x="838" y="118" width="3" height="2" fill="#ff0000"/>
<rect x="842" y="120" width="1" height="45" fill="#ff0000"/>
<rect x="841" y="120" width="3" height="18" fill="#ff0000"/>
<rect x="846" y="138" width="1" height="20" fill="#0000ff"/>
<rect x="845" y="141" width="3" height="7" fill="#0000ff"/>
<rect x="849" y="128" width="1" height="24" fill="#0000ff"/>
<rect x="848" y="146" width="3" height="4" fill="#0000ff"/>
<rect x="853" y="148" width="1" height="43" fill="#ff0000"/>
<rect x="852" y="148" width="3" height="33" fill="#ff0000"/>
<rect x="856" y="145" width="1" height="37" fill="#0000ff"/>
<rect x="855" y="148" width="3" height="32" fill="#0000ff"/>
<rect x="860" y="115" width="1" height="44" fill="#0000ff"/>
<rect x="859" y="115" width="3" height="44" fill="#0000ff"/>
<rect x="863" y="99" width="1" height="23" fill="#0000ff"/>
<rect x="862" y="100" width="3" height="21" fill="#0000ff"/>
<rect x="866" y="100" width="1" height="8" fill="#0000ff"/>
<rect x="865" y="101" width="3" height="5" fill="#0000ff"/>
<rect x="870" y="93" width="1" height="15" fill="#0000ff"/>
<rect x="869" y="98" width="3" height="3" fill="#0000ff"/>
<rect x="873" y="91" width="1" height="15" fill="#ff0000"/>
<rect x="872" y="96" width="3" height="3" fill="#ff0000"/>
<rect x="877" y="91" width="1" height="24" fill="#ff0000"/>
<rect x="876" y="96" width="3" height="11" fill="#ff0000"/>
<rect x="880" y="93" width="1" height="20" fill="#0000ff"/>
<rect x="879" y="101" width="3" height="10" fill="#0000ff"/>
<rect x="884" y="107" width="1" height="16" fill="#0000ff"/>
<rect x="883" y="108" width="3" height="3" fill="#0000ff"/>
<rect x="887" y="112" width="1" height="19" fill="#ff0000"/>
<rect x="886" y="114" width="3" height="6" fill="#ff0000"/>
<rect x="891" y="101" width="1" height="26" fill="#ff0000"/>
<rect x="890" y="117" width="3" height="4" fill="#ff0000"/>
<rect x="894" y="120" width="1" height="35" fill="#ff0000"/>
<rect x="893" y="123" width="3" height="32" fill="#ff0000"/>
<rect x="898" y="143" width="1" height="31" fill="#ff0000"/>
<rect x="897" y="154" width="3" height="20" fill="#ff0000"/>
<rect x="901" y="143" width="1" height="27" fill="#0000ff"/>
<rect x="900" y="151" width="3" height="19" fill="#0000ff"/>
<rect x="905" y="135" width="1" height="24" fill="#0000ff"/>
<rect x="904" y="137" width="3" height="22" fill="#0000ff"/>
<rect x="908" y="119" width="1" height="20" fill="#0000ff"/>
<rect x="907" y="121" width="3" height="18" fill="#0000ff"/>
<rect x="912" y="124" width="1" height="23" fill="#ff0000"/>
<rect x="911" y="127" width="3" height="20" fill="#ff0000"/>
<rect x="915" y="115" width="1" height="39" fill="#0000ff"/>
<rect x="914" y="117" width="3" height="30" fill="#0000ff"/>
<rect x="918" y="117" width="1" height="9" fill="#ff0000"/>
<rect x="917" y="118" width="3" height="4" fill="#ff0000"/>
<path d="M890 130.5h4M884 131.5h6M894 131.5h3M879 132.5h5M897 132.5h5M876 133.5h3M902 133.5h7M873 134.5h3M909 134.5h9M871 135.5h2M869 136.5h2M867 137.5h2M837 138.5h7M865 138.5h2M833 139.5h4M844 139.5h4M863 139.5h2M830 140.5h3M848 140.5h4M861 140.5h2M828 141.5h2M852 141.5h3M858 141.5h3M827 142.5h1M855 142.5h3M826 143.5h1M825 144.5h1M824 145.5h1M823 146.5h1M822 147.5h1M821 148.5h1M820 149.5h1M819 150.5h1M818 151.5h1M817 152.5h1M816 153.5h1M815 154.5h1M814 155.5h1M813 156.5h1M812 157.5h1M811 158.5h1M810 159.5h1M810 160.5h1M809 161.5h1M808 162.5h1M807 163.5h1M806 164.5h1M804 165.5h2M803 166.5h1M802 167.5h1M800 168.5h2M799 169.5h1M798 170.5h1M797 171.5h1M796 172.5h1M273 173.5h9M795 173.5h1M270 174.5h3M282 174.5h1M794 174.5h1M267 175.5h3M283 175.5h1M794 175.5h1M264 176.5h3M284 176.5h2M793 176.5h1M260 177.5h4M286 177.5h1M792 177.5h1M258 178.5h2M287 178.5h1M791 178.5h1M256 179.5h2M288 179.5h1M790 179.5h1M254 180.5h2M289 180.5h2M789 180.5h1M252 181.5h2M291 181.5h1M789 181.5h1M250 182.5h2M292 182.5h1M788 182.5h1M248 183.5h2M293 183.5h2M787 183.5h1M246 184.5h2M295 184.5h1M786 184.5h1M245 185.5h1M296 185.5h2M786 185.5h1M244 186.5h1M298 186.5h1M785 186.5h1M243 187.5h1M299 187.5h2M784 187.5h1M241 188.5h2M301 188.5h2M783 188.5h1M240 189.5h1M303 189.5h2M783 189.5h1M239 190.5h1M305 190.5h1M782 190.5h1M238 191.5h1M306 191.5h1M781 191.5h1M237 192.5h1M307 192.5h1M780 192.5h1M236 193.5h1M308 193.5h2M779 193.5h1M235 194.5h1M310 194.5h1M779 194.5h1M234 195.5h1M311 195.5h1M778 195.5h1M233 196.5h1M312 196.5h2M777 196.5h1M232 197.5h1M314 197.5h3M776 197.5h1M230 198.5h2M317 198.5h2M775 198.5h1M229 199.5h1M319 199.5h2M775 199.5h1M228 200.5h1M321 200.5h3M774 200.5h1M194 201.5h5M226 201.5h2M324 201.5h2M774 201.5h1M191 202.5h3M199 202.5h2M225 202.5h1M326 202.5h2M773 202.5h1M189 203.5h2M201 203.5h3M223 203.5h2M328 203.5h3M773 203.5h1M188 204.5h1M204 204.5h5M221 204.5h2M331 204.5h4M772 204.5h1M187 205.5h1M209 205.5h12M335 205.5h5M772 205.5h1M185 206.5h2M340 206.5h5M771 206.5h1M184 207.5h1M345 207.5h4M771 207.5h1M182 208.5h2M349 208.5h2M770 208.5h1M180 209.5h2M351 209.5h2M770 209.5h1M178 210.5h2M353 210.5h2M769 210.5h1M177 211.5h1M355 211.5h2M769 211.5h1M175 212.5h2M357 212.5h1M768 212.5h1M174 213.5h1M358 213.5h2M768 213.5h1M172 214.5h2M360 214.5h1M767 214.5h1M171 215.5h1M361 215.5h2M766 215.5h1M170 216.5h1M363 216.5h2M766 216.5h1M169 217.5h1M365 217.5h1M765 217.5h1M168 218.5h1M366 218.5h2M764 218.5h1M167 219.5h1M368 219.5h1M764 219.5h1M166 220.5h1M369 220.5h1M763 220.5h1M165 221.5h1M370 221.5h2M763 221.5h1M164 222.5h1M372 222.5h1M762 222.5h1M163 223.5h1M373 223.5h2M761 223.5h1M163 224.5h1M375 224.5h2M761 224.5h1M162 225.5h1M377 225.5h1M760 225.5h1M162 226.5h1M378 226.5h1M759 226.5h1M161 227.5h1M379 227.5h1M758 227.5h1M161 228.5h1M380 228.5h2M757 228.5h1M160 229.5h1M382 229.5h1M756 229.5h1M159 230.5h1M383 230.5h1M754 230.5h2M159 231.5h1M384 231.5h1M753 231.5h1M158 232.5h1M385 232.5h1M752 232.5h1M157 233.5h1M386 233.5h2M751 233.5h1M157 234.5h1M388 234.5h1M750 234.5h1M156 235.5h1M389 235.5h2M749 235.5h1M155 236.5h1M391 236.5h3M748 236.5h1M155 237.5h1M394 237.5h2M747 237.5h1M154 238.5h1M396 238.5h1M746 238.5h1M153 239.5h1M397 239.5h1M746 239.5h1M152 240.5h1M398 240.5h1M745 240.5h1M151 241.5h1M398 241.5h1M744 241.5h1M150 242.5h1M399 242.5h1M743 242.5h1M149 243.5h1M400 243.5h1M742 243.5h1M148 244.5h1M401 244.5h1M741 244.5h1M147 245.5h1M402 245.5h1M740 245.5h1M146 246.5h1M403 246.5h1M739 246.5h1M145 247.5h1M404 247.5h1M738 247.5h1M144 248.5h1M405 248.5h1M737 248.5h1M143 249.5h1M406 249.5h1M736 249.5h1M142 250.5h1M407 250.5h1M736 250.5h1M140 251.5h2M408 251.5h1M735 251.5h1M139 252.5h1M409 252.5h1M734 252.5h1M138 253.5h1M410 253.5h1M734 253.5h1M137 254.5h1M410 254.5h1M733 254.5h1M136 255.5h1M411 255.5h1M732 255.5h1M134 256.5h2M411 256.5h1M731 256.5h1M133 257.5h1M412 257.5h1M731 257.5h1M132 258.5h1M413 258.5h1M730 258.5h1M130 259.5h2M413 259.5h1M729 259.5h1M129 260.5h1M414 260.5h1M728 260.5h1M128 261.5h1M415 261.5h1M727 261.5h1M126 262.5h2M415 262.5h1M726 262.5h1M124 263.5h2M416 263.5h1M726 263.5h1M123 264.5h1M416 264.5h1M725 264.5h1M121 265.5h2M417 265.5h1M724 265.5h1M120 266.5h1M418 266.5h1M723 266.5h1M119 267.5h1M418 267.5h1M722 267.5h1M118 268.5h1M419 268.5h1M721 268.5h1M117 269.5h1M419 269.5h1M720 269.5h1M116 270.5h1M420 270.5h1M719 270.5h1M115 271.5h1M420 271.5h1M717 271.5h2M114 272.5h1M421 272.5h1M716 272.5h1M113 273.5h1M421 273.5h1M715 273.5h1M113 274.5h1M422 274.5h1M714 274.5h1M112 275.5h1M422 275.5h1M713 275.5h1M111 276.5h1M423 276.5h1M711 276.5h2M110 277.5h1M423 277.5h1M709 277.5h2M109 278.5h1M424 278.5h1M708 278.5h1M109 279.5h1M424 279.5h1M706 279.5h2M108 280.5h1M425 280.5h1M704 280.5h2M107 281.5h1M425 281.5h1M702 281.5h2M106 282.5h1M426 282.5h1M700 282.5h2M105 283.5h1M426 283.5h1M698 283.5h2M105 284.5h1M427 284.5h1M697 284.5h1M104 285.5h1M428 285.5h1M696 285.5h1M103 286.5h1M428 286.5h1M695 286.5h1M102 287.5h1M429 287.5h1M694 287.5h1M101 288.5h1M430 288.5h1M693 288.5h1M100 289.5h1M430 289.5h1M692 289.5h1M99 290.5h1M431 290.5h1M691 290.5h1M98 291.5h1M431 291.5h1M689 291.5h2M97 292.5h1M432 292.5h1M688 292.5h1M95 293.5h2M433 293.5h1M687 293.5h1M93 294.5h2M433 294.5h1M686 294.5h1M90 295.5h3M434 295.5h1M685 295.5h1M88 296.5h2M434 296.5h1M684 296.5h1M85 297.5h3M435 297.5h1M683 297.5h1M83 298.5h2M435 298.5h1M682 298.5h1M82 299.5h1M436 299.5h1M681 299.5h1M80 300.5h2M437 300.5h1M680 300.5h1M78 301.5h2M437 301.5h1M680 301.5h1M76 302.5h2M438 302.5h1M679 302.5h1M74 303.5h2M438 303.5h1M678 303.5h1M72 304.5h2M439 304.5h1M677 304.5h1M70 305.5h2M439 305.5h1M676 305.5h1M68 306.5h2M440 306.5h1M674 306.5h2M66 307.5h2M441 307.5h1M673 307.5h1M65 308.5h1M442 308.5h1M672 308.5h1M63 309.5h2M443 309.5h1M670 309.5h2M61 310.5h2M443 310.5h1M669 310.5h1M59 311.5h2M444 311.5h1M667 311.5h2M57 312.5h2M445 312.5h1M665 312.5h2M56 313.5h1M446 313.5h1M663 313.5h2M55 314.5h1M447 314.5h1M661 314.5h2M54 315.5h1M448 315.5h1M659 315.5h2M53 316.5h1M449 316.5h1M646 316.5h13M52 317.5h1M450 317.5h1M644 317.5h2M50 318.5h2M450 318.5h1M643 318.5h1M48 319.5h2M451 319.5h1M642 319.5h1M45 320.5h3M452 320.5h1M640 320.5h2M43 321.5h2M453 321.5h1M639 321.5h1M40 322.5h3M454 322.5h1M638 322.5h1M38 323.5h2M455 323.5h2M637 323.5h1M35 324.5h3M457 324.5h2M635 324.5h2M33 325.5h2M459 325.5h1M633 325.5h2M31 326.5h2M460 326.5h1M631 326.5h2M27 327.5h4M461 327.5h1M629 327.5h2M22 328.5h5M462 328.5h1M626 328.5h3M18 329.5h4M463 329.5h2M623 329.5h3M465 330.5h1M619 330.5h4M466 331.5h1M616 331.5h3M467 332.5h1M612 332.5h4M468 333.5h1M609 333.5h3M469 334.5h1M605 334.5h4M470 335.5h1M602 335.5h3M471 336.5h1M598 336.5h4M472 337.5h1M594 337.5h4M473 338.5h1M592 338.5h2M474 339.5h1M590 339.5h2M475 340.5h1M587 340.5h3M476 341.5h1M583 341.5h4M477 342.5h1M580 342.5h3M477 343.5h1M578 343.5h2M478 344.5h1M576 344.5h2M479 345.5h1M574 345.5h2M480 346.5h1M572 346.5h2M480 347.5h1M571 347.5h1M481 348.5h1M570 348.5h1M482 349.5h1M568 349.5h2M482 350.5h1M567 350.5h1M483 351.5h1M565 351.5h2M483 352.5h1M564 352.5h1M484 353.5h1M563 353.5h1M484 354.5h1M561 354.5h2M485 355.5h1M560 355.5h1M485 356.5h1M558 356.5h2M485 357.5h1M557 357.5h1M486 358.5h1M556 358.5h1M486 359.5h1M555 359.5h1M487 360.5h1M553 360.5h2M487 361.5h1M552 361.5h1M488 362.5h1M551 362.5h1M489 363.5h1M549 363.5h2M489 364.5h1M546 364.5h3M490 365.5h1M543 365.5h3M491 366.5h1M541 366.5h2M492 367.5h1M539 367.5h2M492 368.5h1M537 368.5h2M493 369.5h1M535 369.5h2M494 370.5h1M533 370.5h2M495 371.5h1M532 371.5h1M496 372.5h1M531 372.5h1M497 373.5h1M530 373.5h1M498 374.5h1M529 374.5h1M499 375.5h1M528 375.5h1M500 376.5h1M527 376.5h1M501 377.5h1M526 377.5h1M502 378.5h2M525 378.5h1M504 379.5h1M525 379.5h1M505 380.5h1M524 380.5h1M506 381.5h1M523 381.5h1M507 382.5h1M522 382.5h1M508 383.5h2M520 383.5h2M510 384.5h1M519 384.5h1M511 385.5h8" fill="none" stroke="#9a1818" stroke-width="1"/>
<rect x="18" y="22" width="910" height="1" fill="#000"/>
<rect x="18" y="525" width="910" height="1" fill="#000"/>
<rect x="18" y="22" width="1" height="504" fill="#000"/>
<rect x="927" y="22" width="1" height="504" fill="#000"/>
<rect x="16" y="32" width="2" height="1" fill="#000"/>
<rect x="928" y="32" width="2" height="1" fill="#000"/>
<rect x="16" y="123" width="2" height="1" fill="#000"/>
<rect x="928" y="123" width="2" height="1" fill="#000"/>
<rect x="16" y="214" width="2" height="1" fill="#000"/>
<rect x="928" y="214" width="2" height="1" fill="#000"/>
<rect x="16" y="305" width="2" height="1" fill="#000"/>
<rect x="928" y="305" width="2" height="1" fill="#000"/>
<rect x="16" y="397" width="2" height="1" fill="#000"/>
<rect x="928" y="397" width="2" height="1" fill="#000"/>
<rect x="16" y="488" width="2" height="1" fill="#000"/>
<rect x="928" y="488" width="2" height="1" fill="#000"/>
<rect x="16" y="41" width="2" height="1" fill="#000"/>
<rect x="928" y="41" width="2" height="1" fill="#000"/>
<rect x="16" y="50" width="2" height="1" fill="#000"/>
<rect x="928" y="50" width="2" height="1" fill="#000"/>
<rect x="16" y="59" width="2" height="1" fill="#000"/>
<rect x="928" y="59" width="2" height="1" fill="#000"/>
<rect x="16" y="68" width="2" height="1" fill="#000"/>
<rect x="928" y="68" width="2" height="1" fill="#000"/>
<rect x="16" y="77" width="2" height="1" fill="#000"/>
<rect x="928" y="77" width="2" height="1" fill="#000"/>
<rect x="16" y="86" width="2" height="1" fill="#000"/>
<rect x="928" y="86" width="2" height="1" fill="#000"/>
<rect x="16" y="95" width="2" height="1" fill="#000"/>
<rect x="928" y="95" width="2" height="1" fill="#000"/>
<rect x="16" y="104" width="2" height="1" fill="#000"/>
<rect x="928" y="104" width="2" height="1" fill="#000"/>
<rect x="16" y="113" width="2" height="1" fill="#000"/>
<rect x="928" y="113" width="2" height="1" fill="#000"/>
<rect x="16" y="132" width="2" height="1" fill="#000"/>
<rect x="928" y="132" width="2" height="1" fill="#000"/>
<rect x="16" y="141" width="2" height="1" fill="#000"/>
<rect x="928" y="141" width="2" height="1" fill="#000"/>
<rect x="16" y="150" width="2" height="1" fill="#000"/>
<rect x="928" y="150" width="2" height="1" fill="#000"/>
<rect x="16" y="159" width="2" height="1" fill="#000"/>
<rect x="928" y="159" width="2" height="1" fill="#000"/>
<rect x="16" y="168" width="2" height="1" fill="#000"/>
<rect x="928" y="168" width="2" height="1" fill="#000"/>
<rect x="16" y="177" width="2" height="1" fill="#000"/>
<rect x="928" y="177" width="2" height="1" fill="#000"/>
<rect x="16" y="186" width="2" height="1" fill="#000"/>
<rect x="928" y="186" width="2" height="1" fill="#000"/>
<rect x="16" y="195" width="2" height="1" fill="#000"/>
<rect x="928" y="195" width="2" height="1" fill="#000"/>
<rect x="16" y="204" width="2" height="1" fill="#000"/>
<rect x="928" y="204" width="2" height="1" fill="#000"/>
<rect x="16" y="223" width="2" height="1" fill="#000"/>
<rect x="928" y="223" width="2" height="1" fill="#000"/>
<rect x="16" y="232" width="2" height="1" fill="#000"/>
<rect x="928" y="232" width="2" height="1" fill="#000"/>
<rect x="16" y="241" width="2" height="1" fill="#000"/>
<rect x="928" y="241" width="2" height="1" fill="#000"/>
<rect x="16" y="250" width="2" height="1" fill="#000"/>
<rect x="928" y="250" width="2" height="1" fill="#000"/>
<rect x="16" y="259" width="2" height="1" fill="#000"/>
<rect x="928" y="259" width="2" height="1" fill="#000"/>
<rect x="16" y="268" width="2" height="1" fill="#000"/>
<rect x="928" y="268" width="2" height="1" fill="#000"/>
<rect x="16" y="277" width="2" height="1" fill="#000"/>
<rect x="928" y="277" width="2" height="1" fill="#000"/>
<rect x="16" y="286" width="2" height="1" fill="#000"/>
<rect x="928" y="286" width="2" height="1" fill="#000"/>
<rect x="16" y="295" width="2" height="1" fill="#000"/>
<rect x="928" y="295" width="2" height="1" fill="#000"/>
<rect x="16" y="314" width="2" height="1" fill="#000"/>
<rect x="928" y="314" width="2" height="1" fill="#000"/>
<rect x="16" y="323" width="2" height="1" fill="#000"/>
<rect x="928" y="323" width="2" height="1" fill="#000"/>
<rect x="16" y="332" width="2" height="1" fill="#000"/>
<rect x="928" y="332" width="2" height="1" fill="#000"/>
<rect x="16" y="341" width="2" height="1" fill="#000"/>
<rect x="928" y="341" width="2" height="1" fill="#000"/>
<rect x="16" y="350" width="2" height="1" fill="#000"/>
<rect x="928" y="350" width="2" height="1" fill="#000"/>
<rect x="16" y="359" width="2" height="1" fill="#000"/>
<rect x="928" y="359" width="2" height="1" fill="#000"/>
<rect x="16" y="368" width="2" height="1" fill="#000"/>
<rect x="928" y="368" width="2" height="1" fill="#000"/>
<rect x="16" y="377" width="2" height="1" fill="#000"/>
<rect x="928" y="377" width="2" height="1" fill="#000"/>
<rect x="16" y="386" width="2" height="1" fill="#000"/>
<rect x="928" y="386" width="2" height="1" fill="#000"/>
<rect x="16" y="406" width="2" height="1" fill="#000"/>
<rect x="928" y="406" width="2" height="1" fill="#000"/>
<rect x="16" y="415" width="2" height="1" fill="#000"/>
<rect x="928" y="415" width="2" height="1" fill="#000"/>
<rect x="16" y="424" width="2" height="1" fill="#000"/>
<rect x="928" y="424" width="2" height="1" fill="#000"/>
<rect x="16" y="433" width="2" height="1" fill="#000"/>
<rect x="928" y="433" width="2" height="1" fill="#000"/>
<rect x="16" y="442" width="2" height="1" fill="#000"/>
<rect x="928" y="442" width="2" height="1" fill="#000"/>
<rect x="16" y="451" width="2" height="1" fill="#000"/>
<rect x="928" y="451" width="2" height="1" fill="#000"/>
<rect x="16" y="460" width="2" height="1" fill="#000"/>
<rect x="928" y="460" width="2" height="1" fill="#000"/>
<rect x="16" y="469" width="2" height="1" fill="#000"/>
<rect x="928" y="469" width="2" height="1" fill="#000"/>
<rect x="16" y="478" width="2" height="1" fill="#000"/>
<rect x="928" y="478" width="2" height="1" fill="#000"/>
<rect x="16" y="497" width="2" height="1" fill="#000"/>
<rect x="928" y="497" width="2" height="1" fill="#000"/>
<rect x="16" y="506" width="2" height="1" fill="#000"/>
<rect x="928" y="506" width="2" height="1" fill="#000"/>
<rect x="16" y="515" width="2" height="1" fill="#000"/>
<rect x="928" y="515" width="2" height="1" fill="#000"/>
<rect x="16" y="524" width="2" height="1" fill="#000"/>
<rect x="928" y="524" width="2" height="1" fill="#000"/>
<rect x="16" y="525" width="2" height="1" fill="#000"/>
<rect x="928" y="525" width="2" height="1" fill="#000"/>
<rect x="31" y="526" width="1" height="1" fill="#000"/>
<rect x="46" y="526" width="1" height="2" fill="#000"/>
<rect x="61" y="526" width="1" height="1" fill="#000"/>
<rect x="76" y="526" width="1" height="1" fill="#000"/>
<rect x="91" y="526" width="1" height="2" fill="#000"/>
<rect x="106" y="526" width="1" height="1" fill="#000"/>
<rect x="121" y="526" width="1" height="1" fill="#000"/>
<rect x="136" y="526" width="1" height="2" fill="#000"/>
<rect x="151" y="526" width="1" height="1" fill="#000"/>
<rect x="166" y="526" width="1" height="1" fill="#000"/>
<rect x="181" y="526" width="1" height="2" fill="#000"/>
<rect x="196" y="526" width="1" height="1" fill="#000"/>
<rect x="211" y="526" width="1" height="1" fill="#000"/>
<rect x="226" y="526" width="1" height="2" fill="#000"/>
<rect x="241" y="526" width="1" height="1" fill="#000"/>
<rect x="257" y="526" width="1" height="1" fill="#000"/>
<rect x="272" y="526" width="1" height="2" fill="#000"/>
<rect x="287" y="526" width="1" height="1" fill="#000"/>
<rect x="302" y="526" width="1" height="1" fill="#000"/>
<rect x="317" y="526" width="1" height="2" fill="#000"/>
<rect x="332" y="526" width="1" height="1" fill="#000"/>
<rect x="347" y="526" width="1" height="1" fill="#000"/>
<rect x="362" y="526" width="1" height="2" fill="#000"/>
<rect x="377" y="526" width="1" height="1" fill="#000"/>
<rect x="392" y="526" width="1" height="1" fill="#000"/>
<rect x="407" y="526" width="1" height="2" fill="#000"/>
<rect x="422" y="526" width="1" height="1" fill="#000"/>
<rect x="438" y="526" width="1" height="1" fill="#000"/>
<rect x="453" y="526" width="1" height="2" fill="#000"/>
<rect x="468" y="526" width="1" height="1" fill="#000"/>
<rect x="483" y="526" width="1" height="1" fill="#000"/>
<rect x="498" y="526" width="1" height="2" fill="#000"/>
<rect x="513" y="526" width="1" height="1" fill="#000"/>
<rect x="528" y="526" width="1" height="1" fill="#000"/>
<rect x="543" y="526" width="1" height="2" fill="#000"/>
<rect x="558" y="526" width="1" height="1" fill="#000"/>
<rect x="573" y="526" width="1" height="1" fill="#000"/>
<rect x="588" y="526" width="1" height="2" fill="#000"/>
<rect x="603" y="526" width="1" height="1" fill="#000"/>
<rect x="619" y="526" width="1" height="1" fill="#000"/>
<rect x="634" y="526" width="1" height="2" fill="#000"/>
<rect x="649" y="526" width="1" height="1" fill="#000"/>
<rect x="664" y="526" width="1" height="1" fill="#000"/>
<rect x="679" y="526" width="1" height="2" fill="#000"/>
<rect x="694" y="526" width="1" height="1" fill="#000"/>
<rect x="709" y="526" width="1" height="1" fill="#000"/>
<rect x="724" y="526" width="1" height="2" fill="#000"/>
<rect x="739" y="526" width="1" height="1" fill="#000"/>
<rect x="754" y="526" width="1" height="1" fill="#000"/>
<rect x="769" y="526" width="1" height="2" fill="#000"/>
<rect x="784" y="526" width="1" height="1" fill="#000"/>
<rect x="800" y="526" width="1" height="1" fill="#000"/>
<rect x="815" y="526" width="1" height="2" fill="#000"/>
<rect x="830" y="526" width="1" height="1" fill="#000"/>
<rect x="845" y="526" width="1" height="1" fill="#000"/>
<rect x="860" y="526" width="1" height="2" fill="#000"/>
<rect x="875" y="526" width="1" height="1" fill="#000"/>
<rect x="890" y="526" width="1" height="1" fill="#000"/>
<rect x="905" y="526" width="1" height="2" fill="#000"/>
<rect x="920" y="526" width="1" height="1" fill="#000"/>
</svg>
<div class="t" style="left:18px;letter-spacing:-0.19px">Fraser and Neave Ltd (FNN) 6.02 <span style="color:#0000ff">+0.02</span></div>
<div class="t" style="left:677px;letter-spacing:-0.25px">www.fullermoney.com</div>
<div class="t" style="left:846px;letter-spacing:-0.13px">26 Jul 2011</div>
<div class="lg" style="top:28px;color:#0000ff;letter-spacing:0.15px">Weekly</div>
<div class="lg" style="top:45px;color:#a52a2a">EMA 200</div>
<div class="xl" style="left:15.5px">Oct</div><div class="xl" style="left:62.5px">2007</div><div class="xl" style="left:105.5px">Apr</div><div class="xl" style="left:150.5px">Jul</div><div class="xl" style="left:195.5px">Oct</div><div class="xl" style="left:243.5px">2008</div><div class="xl" style="left:286.5px">Apr</div><div class="xl" style="left:331.5px">Jul</div><div class="xl" style="left:376.5px">Oct</div><div class="xl" style="left:424.5px">2009</div><div class="xl" style="left:467.5px">Apr</div><div class="xl" style="left:512.5px">Jul</div><div class="xl" style="left:557.5px">Oct</div><div class="xl" style="left:605.5px">2010</div><div class="xl" style="left:648.5px">Apr</div><div class="xl" style="left:693.5px">Jul</div><div class="xl" style="left:738.5px">Oct</div><div class="xl" style="left:786.5px">2011</div><div class="xl" style="left:829.5px">Apr</div><div class="xl" style="left:874.5px">Jul</div><div class="yl" style="top:481px">2</div><div class="yl" style="top:390px">3</div><div class="yl" style="top:298px">4</div><div class="yl" style="top:207px">5</div><div class="yl" style="top:116px">6</div><div class="yl" style="top:25px">7</div>
<div class="cp">&copy; 2011 Stockcube Research Ltd</div>
</body></html>
